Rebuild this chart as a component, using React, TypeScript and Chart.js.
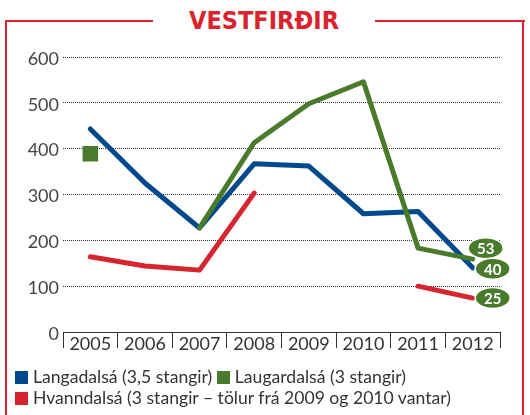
import React, { useEffect, useRef } from "react";
import { Chart, registerables } from "chart.js";
Chart.register(...registerables);

const years = ["2005", "2006", "2007", "2008", "2009", "2010", "2011", "2012"];
const langadalsa = [443, 325, 227, 367, 362, 258, 263, 140];
const laugardalsa = [389, null, 227, 413, 498, 546, 183, 159];
const hvanndalsa = [164, 144, 135, 303, null, null, 100, 74];
const endLabels = ["40", "53", "25"];
const seriesNames = [
  "Langadalsá (3,5 stangir)",
  "Laugardalsá (3 stangir)",
  "Hvanndalsá (3 stangir – tölur frá 2009 og 2010 vantar)",
];
const title = "VESTFIRÐIR";

const BLUE = "#00498c";
const GREEN = "#4a7a2c";
const RED = "#d7252f";
const FRAME = "#d9232e";
const FONT = "Lato, 'Open Sans', sans-serif";

const bubbleOffsets = [
  [20, 1],
  [13, -11],
  [20, 0],
];

const bubblePlugin = {
  id: "bubbles",
  afterDatasetsDraw(chart: any) {
    const ctx = chart.ctx;
    const order = [1, 0, 2];
    order.forEach((i) => {
      const meta = chart.getDatasetMeta(i);
      const pt = meta.data[meta.data.length - 1];
      if (!pt) return;
      const x = pt.x + bubbleOffsets[i][0];
      const y = pt.y + bubbleOffsets[i][1];
      ctx.save();
      ctx.beginPath();
      ctx.ellipse(x, y, 17.5, 10.5, 0, 0, Math.PI * 2);
      ctx.fillStyle = GREEN;
      ctx.fill();
      ctx.lineWidth = 1.5;
      ctx.strokeStyle = "#ffffff";
      ctx.stroke();
      ctx.fillStyle = "#ffffff";
      ctx.font = "bold 15px " + FONT;
      ctx.textAlign = "center";
      ctx.textBaseline = "middle";
      ctx.fillText(endLabels[i], x, y + 1);
      ctx.restore();
    });
  },
};

export default function App() {
  const ref = useRef<HTMLCanvasElement | null>(null);
  useEffect(() => {
    if (!ref.current) return;
    const chart = new Chart(ref.current, {
      type: "line",
      data: {
        labels: years,
        datasets: [
          {
            label: seriesNames[0],
            data: langadalsa,
            borderColor: BLUE,
            backgroundColor: BLUE,
            borderWidth: 5,
            pointRadius: 0,
            borderCapStyle: "round",
            borderJoinStyle: "round",
            order: 1,
          },
          {
            label: seriesNames[1],
            data: laugardalsa,
            borderColor: GREEN,
            backgroundColor: GREEN,
            borderWidth: 5,
            pointStyle: "rect",
            pointRadius: [11, 0, 0, 0, 0, 0, 0, 0],
            pointBorderWidth: 0,
            pointBackgroundColor: GREEN,
            borderCapStyle: "round",
            borderJoinStyle: "round",
            order: 0,
          },
          {
            label: seriesNames[2],
            data: hvanndalsa,
            borderColor: RED,
            backgroundColor: RED,
            borderWidth: 5,
            pointRadius: 0,
            borderCapStyle: "round",
            borderJoinStyle: "round",
            order: 2,
          },
        ],
      },
      options: {
        responsive: false,
        animation: false,
        spanGaps: false,
        layout: { padding: { top: 57, right: 30, left: 0, bottom: 0 } },
        plugins: { legend: { display: false }, tooltip: { enabled: false } },
        scales: {
          x: {
            offset: true,
            grid: {
              display: true,
              offset: true,
              drawOnChartArea: false,
              drawTicks: true,
              tickLength: 16,
              color: "#333",
              lineWidth: 1,
            },
            border: { display: true, color: "#333", width: 1 },
            ticks: {
              font: { family: FONT, size: 18 },
              color: "#333",
              padding: -15,
              maxRotation: 0,
            },
            afterFit: (s: any) => {
              s.height = 83;
            },
          },
          y: {
            min: 0,
            max: 600,
            ticks: {
              stepSize: 100,
              font: { family: FONT, size: 18 },
              color: "#444",
              padding: 4,
              labelOffset: 2,
            },
            grid: {
              drawTicks: false,
              color: (c: any) => (c.tick && c.tick.value === 0 ? "rgba(0,0,0,0)" : "#333"),
              lineWidth: 1,
            },
            border: { display: false, dash: [1, 1] },
            afterFit: (s: any) => {
              s.width = 63;
            },
          },
        },
      },
      plugins: [bubblePlugin],
    } as any);
    return () => chart.destroy();
  }, []);

  const sq = (c: string) => (
    <span
      style={{
        display: "inline-block",
        width: 13,
        height: 13,
        background: c,
        marginRight: 5,
        verticalAlign: "-1px",
      }}
    />
  );

  return (
    <div style={{ position: "fixed", left: 0, top: 0, width: 530, height: 415, background: "#fff", overflow: "hidden" }}>
      <div style={{ position: "absolute", left: 5, top: 20, width: 148, height: 2, background: FRAME }} />
      <div style={{ position: "absolute", left: 375, top: 20, width: 150, height: 2, background: FRAME }} />
      <div style={{ position: "absolute", left: 5, top: 20, width: 2, height: 420, background: FRAME }} />
      <div style={{ position: "absolute", left: 522, top: 20, width: 2, height: 420, background: FRAME }} />
      <div
        style={{
          position: "absolute",
          left: 153,
          width: 222,
          top: 6,
          textAlign: "center",
          color: FRAME,
          fontFamily: "'DejaVu Sans Condensed', 'Liberation Sans Narrow', sans-serif",
          fontStretch: "condensed",
          fontWeight: "bold",
          fontSize: 25,
          lineHeight: "30px",
        }}
      >
        {title}
      </div>
      <canvas ref={ref} width={530} height={415} style={{ position: "absolute", left: 0, top: 0 }} />
      <div
        style={{
          position: "absolute",
          left: 15,
          top: 366,
          fontFamily: FONT,
          fontSize: 17.6,
          color: "#333",
          lineHeight: "21px",
          whiteSpace: "nowrap",
        }}
      >
        <div>
          {sq(BLUE)}
          {seriesNames[0]} {sq(GREEN)}
          {seriesNames[1]}
        </div>
        <div>
          {sq(RED)}
          {seriesNames[2]}
        </div>
      </div>
    </div>
  );
}
